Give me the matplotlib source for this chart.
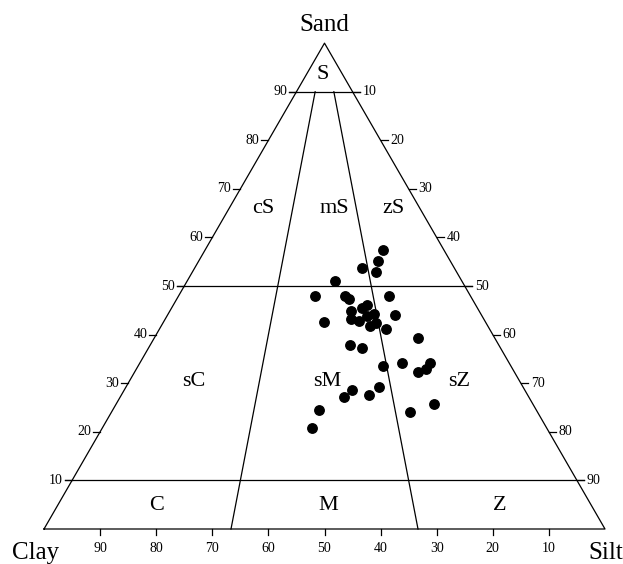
import numpy as np
import matplotlib
matplotlib.use("Agg")
import matplotlib.pyplot as plt

plt.rcParams['font.family'] = ['Liberation Serif', 'DejaVu Serif']

# sample composition in percent
sand = [57.5, 55.1, 53.7, 53.0, 51.0, 47.9, 47.9, 47.4, 47.9, 46.1, 45.4, 44.8, 44.3,
        43.8, 44.1, 43.3, 42.8, 42.6, 42.4, 41.8, 41.2, 39.3, 37.8, 37.2, 33.6, 34.2,
        34.2, 33.0, 32.3, 28.7, 27.1, 29.2, 27.6, 24.4, 24.1, 25.7, 20.7]
silt = [31.7, 32.0, 29.8, 32.7, 26.3, 24.3, 29.7, 30.7, 37.5, 34.5, 34.0, 32.3, 36.6,
        35.7, 40.6, 33.0, 34.7, 28.6, 37.9, 37.2, 40.4, 47.1, 35.6, 38.1, 43.7, 46.7,
        51.7, 51.6, 50.6, 40.6, 39.9, 45.2, 44.1, 36.8, 53.2, 56.7, 37.5]
clay = [100 - a - b for a, b in zip(sand, silt)]

# Folk classes: label, sand, silt (label position)
classes = ["S", "cS", "mS", "zS", "sC", "sM", "sZ", "C", "M", "Z"]
class_sand = [93.5, 65.9, 65.9, 65.9, 30.3, 30.3, 30.3, 4.9, 4.9, 4.9]
class_silt = [3.0, 6.1, 18.8, 29.3, 11.6, 35.3, 58.9, 17.7, 48.2, 78.8]

tick_vals = [10, 20, 30, 40, 50, 60, 70, 80, 90]
h = np.sqrt(3) / 2
px = 1 / 561.0  # one pixel in data units


def tern(sd, st):
    sd = np.asarray(sd, dtype=float)
    st = np.asarray(st, dtype=float)
    return st / 100 + sd / 200, sd / 100 * h


fig = plt.figure(figsize=(6.23, 5.64), dpi=100)
ax = fig.add_axes([0, 0, 1, 1])
ax.set_xlim(-44 * px, 579 * px)
ax.set_ylim(-35 * px, 529 * px)
ax.axis('off')

lw = 0.9
# outline
ax.plot([0, 1, 0.5, 0], [0, 0, h, 0], color='black', lw=lw)

# sand 10 / 50 / 90 lines, slightly past the edges
for v in [10, 50, 90]:
    xl, y = tern(v, 0)
    xr, _ = tern(v, 100 - v)
    ax.plot([xl - 7 * px, xr + 7 * px], [y, y], color='black', lw=lw)

# clay:silt 2:1 and 1:2 lines below sand 90
for r in [1 / 3, 2 / 3]:
    x0, y0 = tern(90, 10 * r)
    x1, y1 = tern(0, 100 * r)
    ax.plot([x0, x1], [y0, y1], color='black', lw=lw)

fs_tick = 10
for v in tick_vals:
    # left edge: sand
    x, y = tern(v, 0)
    ax.plot([x - 7 * px, x], [y, y], color='black', lw=lw)
    ax.text(x - 9 * px, y, str(v), ha='right', va='center', fontsize=fs_tick)
    # right edge: silt
    x, y = tern(100 - v, v)
    ax.plot([x, x + 7 * px], [y, y], color='black', lw=lw)
    ax.text(x + 10 * px, y, str(v), ha='left', va='center', fontsize=fs_tick)
    # bottom: clay
    x, y = tern(0, 100 - v)
    ax.plot([x, x], [0, -6 * px], color='black', lw=lw)
    ax.text(x, -20 * px, str(v), ha='center', va='center', fontsize=fs_tick)

for lab, sd, st in zip(classes, class_sand, class_silt):
    x, y = tern(sd, st)
    ax.text(x, y, lab, ha='center', va='center', fontsize=16)

ax.text(0.5, h + 18 * px, "Sand", ha='center', va='center', fontsize=18)
ax.text(-8 * px, -24 * px, "Clay", ha='center', va='center', fontsize=18)
ax.text(1 + 1 * px, -24 * px, "Silt", ha='center', va='center', fontsize=18)

x, y = tern(sand, silt)
ax.plot(x, y, 'o', color='black', markersize=6.8, linestyle='none')

fig.savefig("out.png", dpi=100)
